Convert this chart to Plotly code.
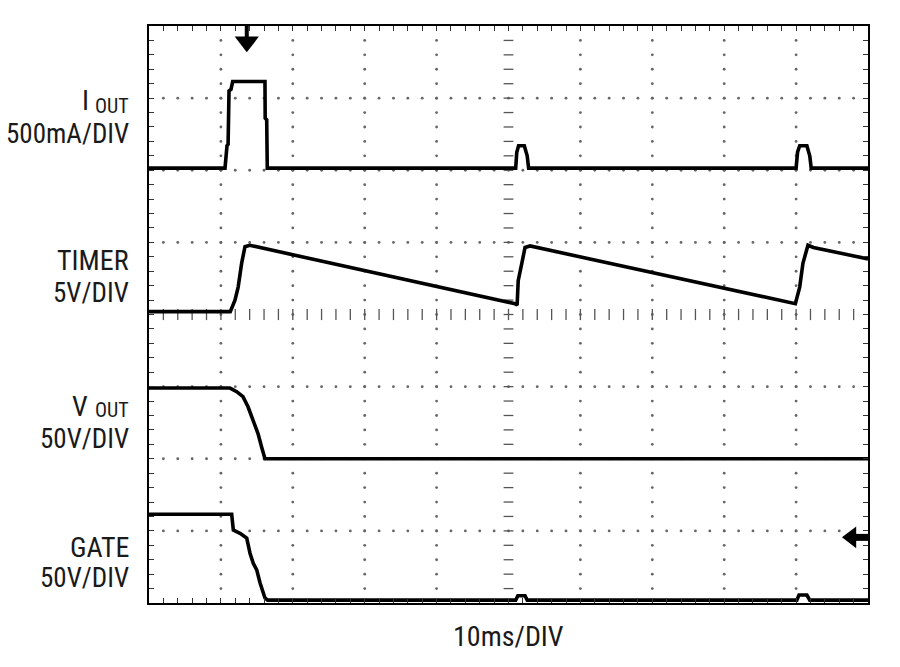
import numpy as np
import plotly.graph_objects as go

# ---- data (time in ms, amplitude in screen divisions) ----
iout_t = [0, 10.57, 10.85, 11.0, 11.13, 11.4, 11.64, 16.13, 16.16, 16.37, 16.45,
          51.0, 51.15, 51.4, 52.2, 52.6, 52.8, 90.0, 90.2, 90.5, 91.5, 91.9, 92.1, 100]
iout_y = [6.03, 6.03, 6.34, 6.36, 7.10, 7.12, 7.23, 7.23, 6.72, 6.70, 6.03,
          6.03, 6.25, 6.34, 6.34, 6.20, 6.03, 6.03, 6.25, 6.34, 6.34, 6.20, 6.03, 6.03]

timer_t = [0, 11.3, 11.96, 12.4, 12.9, 13.35, 14.0, 50.9, 51.2, 51.35, 51.85, 52.3,
           53.0, 89.9, 90.5, 90.95, 91.65, 92.4, 100]
timer_y = [4.04, 4.04, 4.20, 4.38, 4.72, 4.94, 4.96, 4.15, 4.13, 4.47, 4.71, 4.93,
           4.95, 4.15, 4.38, 4.71, 4.96, 4.93, 4.77]

vout_t = [0, 11.27, 12.2, 13.07, 13.77, 14.46, 15.16, 15.67, 16.13, 100]
vout_y = [2.98, 2.98, 2.93, 2.86, 2.72, 2.53, 2.35, 2.16, 2.00, 2.00]

gate_t = [0, 11.5, 11.73, 12.66, 13.59, 14.05, 14.5, 14.98, 15.44, 16.13, 16.5,
          51.0, 51.3, 52.3, 52.6, 90.1, 90.4, 91.5, 91.9, 100]
gate_y = [1.23, 1.23, 1.01, 0.965, 0.90, 0.69, 0.55, 0.46, 0.28, 0.07, 0.04,
          0.04, 0.10, 0.10, 0.04, 0.04, 0.11, 0.11, 0.04, 0.04]

# (main text, subscript, level of main text, level of subscript, main x-shift)
name_labels = [("I", "OUT", 6.97, 6.89, -60),
               ("TIMER", "", 4.75, None, 0),
               ("V", "OUT", 2.73, 2.67, -61),
               ("GATE", "", 0.77, None, 0)]
scale_labels = [("500mA/DIV", 6.50), ("5V/DIV", 4.30), ("50V/DIV", 2.27), ("50V/DIV", 0.35)]
time_label = "10ms/DIV"
trigger_time = 13.6
ground_marker_level = 0.91

X_DIVS, Y_DIVS = 10, 8
MS_PER_DIV = 10

FONT = "Liberation Sans Narrow, Roboto Condensed, Arial Narrow, Liberation Sans, sans-serif"
TXT = "#1a1a1a"
RIGHT_EDGE = -20

fig = go.Figure()

# dotted graticule
gx, gy = [], []
minor_y = np.round(np.arange(0.2, Y_DIVS, 0.2), 3)
minor_x = np.round(np.arange(2, X_DIVS * MS_PER_DIV, 2), 3)
for d in range(1, X_DIVS):
    if d == X_DIVS // 2:
        continue
    gx += [d * MS_PER_DIV] * len(minor_y)
    gy += list(minor_y)
for d in range(1, Y_DIVS):
    if d == Y_DIVS // 2:
        continue
    gx += list(minor_x)
    gy += [d] * len(minor_x)
fig.add_trace(go.Scatter(x=gx, y=gy, mode="markers", hoverinfo="skip",
                         marker=dict(size=2.8, color="#666666", line=dict(width=0))))

# centre crosshair ticks
fig.add_trace(go.Scatter(x=list(minor_x), y=[Y_DIVS / 2] * len(minor_x), mode="markers",
                         hoverinfo="skip",
                         marker=dict(symbol="line-ns", size=8, line=dict(width=1.3, color="#555"))))
fig.add_trace(go.Scatter(x=[X_DIVS * MS_PER_DIV / 2] * len(minor_y), y=list(minor_y), mode="markers",
                         hoverinfo="skip",
                         marker=dict(symbol="line-ew", size=7, line=dict(width=1.3, color="#555"))))

# waveforms
for t, y in [(iout_t, iout_y), (timer_t, timer_y), (vout_t, vout_y), (gate_t, gate_y)]:
    fig.add_trace(go.Scatter(x=t, y=y, mode="lines", line=dict(color="black", width=3.6),
                             hoverinfo="skip"))

# trigger arrow (top) and ground marker (right)
fig.add_trace(go.Scatter(x=[trigger_time, trigger_time], y=[8.0, 7.84], mode="lines",
                         line=dict(color="black", width=4), hoverinfo="skip"))
fig.add_trace(go.Scatter(x=[trigger_time], y=[7.78], mode="markers", hoverinfo="skip",
                         marker=dict(symbol="triangle-down", size=21, color="black")))
fig.add_trace(go.Scatter(x=[98.3, 100], y=[ground_marker_level] * 2, mode="lines",
                         line=dict(color="black", width=7), hoverinfo="skip"))
fig.add_trace(go.Scatter(x=[97.7], y=[ground_marker_level], mode="markers", hoverinfo="skip",
                         marker=dict(symbol="triangle-left", size=19, color="black")))

ann_box = dict(showarrow=False, borderpad=0, borderwidth=0)

# channel labels
for main, sub, ym, ys, mshift in name_labels:
    if sub:
        fig.add_annotation(text=sub, xref="paper", x=0, xanchor="right", xshift=RIGHT_EDGE,
                           yref="y", y=ys, yanchor="middle",
                           font=dict(family=FONT, size=20, color=TXT), **ann_box)
        fig.add_annotation(text=main, xref="paper", x=0, xanchor="right", xshift=mshift,
                           yref="y", y=ym, yanchor="middle",
                           font=dict(family=FONT, size=28, color=TXT), **ann_box)
    else:
        fig.add_annotation(text=main, xref="paper", x=0, xanchor="right", xshift=RIGHT_EDGE,
                           yref="y", y=ym, yanchor="middle",
                           font=dict(family=FONT, size=28, color=TXT), **ann_box)
for text, yv in scale_labels:
    fig.add_annotation(text=text, xref="paper", x=0, xanchor="right", xshift=RIGHT_EDGE,
                       yref="y", y=yv, yanchor="middle",
                       font=dict(family=FONT, size=27, color=TXT), **ann_box)
fig.add_annotation(text=time_label, xref="x", x=50, yref="paper", y=0, yanchor="top",
                   yshift=-17, font=dict(family=FONT, size=28, color=TXT), **ann_box)

axis_common = dict(showgrid=False, zeroline=False, showline=True, linewidth=2.4,
                   linecolor="black", mirror="ticks", ticks="inside", ticklen=5,
                   tickwidth=1.2, tickcolor="#333", showticklabels=False, fixedrange=True)
fig.update_xaxes(range=[0, X_DIVS * MS_PER_DIV], dtick=2, tick0=0, **axis_common)
fig.update_yaxes(range=[0, Y_DIVS], dtick=0.2, tick0=0, **axis_common)

fig.update_layout(width=900, height=667, showlegend=False,
                  margin=dict(l=149, r=32, t=26, b=64),
                  paper_bgcolor="white", plot_bgcolor="white")

fig.write_html("out.html", config={"displayModeBar": False},
               post_script="document.body.style.margin='0px';document.body.style.overflow='hidden';")
